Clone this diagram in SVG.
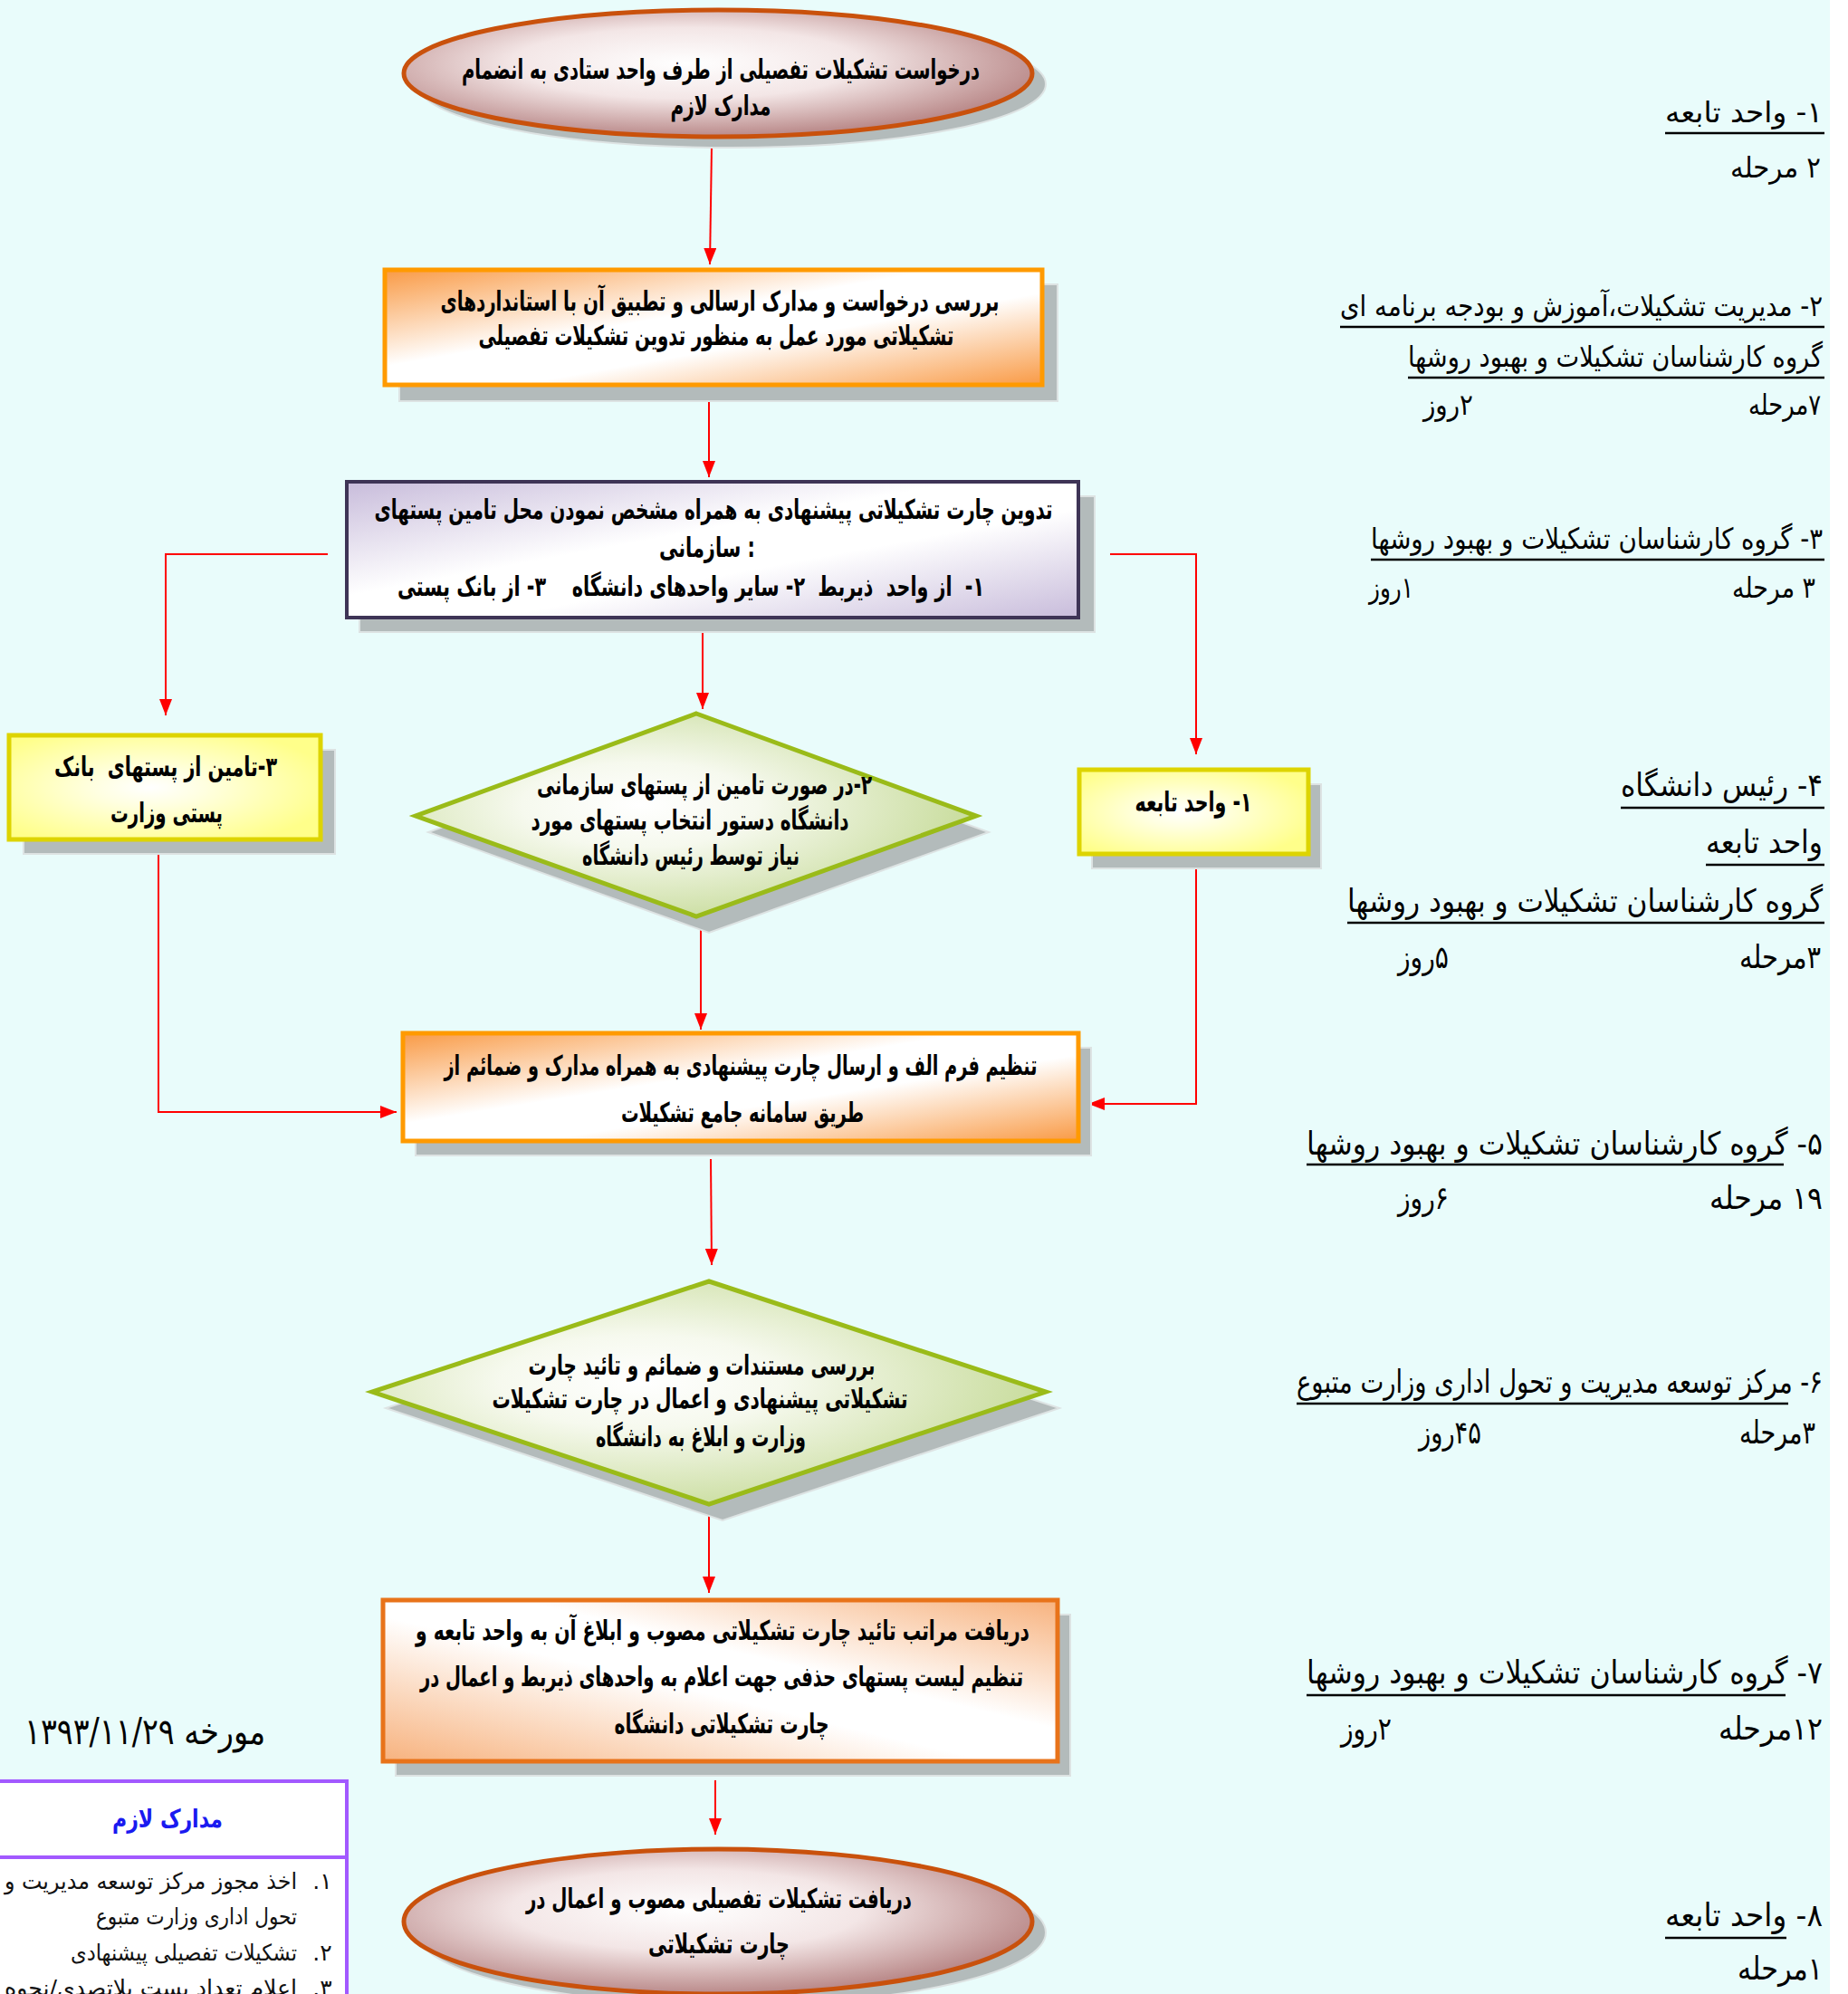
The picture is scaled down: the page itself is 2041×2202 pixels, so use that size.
<svg xmlns="http://www.w3.org/2000/svg" width="2041" height="2202" viewBox="0 0 2041 2202">
<style>
text{direction:rtl;unicode-bidi:embed}
.ltr{direction:ltr}
.t{font-family:"DejaVu Sans","Noto Sans",sans-serif;font-weight:bold;font-size:30px;text-anchor:middle;fill:#000}
.r{font-family:"DejaVu Sans","Noto Sans",sans-serif;font-size:32px;text-anchor:middle;fill:#000}
.rb{font-family:"DejaVu Sans","Noto Sans",sans-serif;font-size:35px;text-anchor:middle;fill:#000}
.ul{stroke:#000;stroke-width:2.5}
.sh{fill:#B3BBBB;stroke:#DDE3E3;stroke-width:2}
.conn{fill:none;stroke:#FF0000;stroke-width:2}
.ell{stroke:#C9510C;stroke-width:5;fill:url(#gEll)}
.orb{stroke:#FF9A00;stroke-width:5;fill:url(#gOr)}
.dia{stroke:#9ABB19;stroke-width:5;fill:url(#gGr)}
.yel{stroke:#DDD400;stroke-width:5;fill:url(#gYe)}
.lg{font-family:"DejaVu Sans","Noto Sans",sans-serif;font-size:25px;fill:#111;text-anchor:middle}
</style>
<defs>
<radialGradient id="gEll" cx="0.45" cy="0.42" r="0.62">
<stop offset="0" stop-color="#FFFFFF"/><stop offset="0.45" stop-color="#F3E6E6"/><stop offset="1" stop-color="#B27D7D"/>
</radialGradient>
<linearGradient id="gOr" x1="0" y1="0" x2="1" y2="1">
<stop offset="0" stop-color="#F99A45"/><stop offset="0.42" stop-color="#FFFFFF"/><stop offset="0.6" stop-color="#FFFFFF"/><stop offset="1" stop-color="#F99A45"/>
</linearGradient>
<linearGradient id="gOr2" x1="0" y1="1" x2="1" y2="0">
<stop offset="0" stop-color="#F7B27E"/><stop offset="0.45" stop-color="#FFFFFF"/><stop offset="0.6" stop-color="#FFFFFF"/><stop offset="1" stop-color="#F7B27E"/>
</linearGradient>
<linearGradient id="gPu" x1="0" y1="0" x2="1" y2="1">
<stop offset="0" stop-color="#C8BCDB"/><stop offset="0.42" stop-color="#FFFFFF"/><stop offset="0.6" stop-color="#FFFFFF"/><stop offset="1" stop-color="#C8BCDB"/>
</linearGradient>
<radialGradient id="gGr" cx="0.4" cy="0.45" r="0.6">
<stop offset="0" stop-color="#FFFFFF"/><stop offset="0.35" stop-color="#F6F9EE"/><stop offset="1" stop-color="#C8DC9C"/>
</radialGradient>
<radialGradient id="gYe" cx="0.45" cy="0.5" r="0.6">
<stop offset="0" stop-color="#FFFFFF"/><stop offset="0.3" stop-color="#FFFFE0"/><stop offset="1" stop-color="#FFFF8A"/>
</radialGradient>
<marker id="ah" viewBox="0 0 18 14" refX="18" refY="7" markerWidth="18" markerHeight="14" markerUnits="userSpaceOnUse" orient="auto">
<path d="M0,0 L18,7 L0,14 z" fill="#FF0000"/>
</marker>
</defs>
<rect x="0" y="0" width="2041" height="2202" fill="#E9FCFB"/>
<rect x="2021" y="0" width="20" height="2202" fill="#FFFFFF"/>

<g id="connectors">
<path class="conn" d="M786,161 L784,292" marker-end="url(#ah)"/>
<path class="conn" d="M783,428 L783,527" marker-end="url(#ah)"/>
<path class="conn" d="M362,612 L183,612 L183,790" marker-end="url(#ah)"/>
<path class="conn" d="M1226,612 L1321,612 L1321,833" marker-end="url(#ah)"/>
<path class="conn" d="M776,688 L776,783" marker-end="url(#ah)"/>
<path class="conn" d="M175,943 L175,1228 L438,1228" marker-end="url(#ah)"/>
<path class="conn" d="M774,1025 L774,1137" marker-end="url(#ah)"/>
<path class="conn" d="M1321,960 L1321,1219 L1202,1219" marker-end="url(#ah)"/>
<path class="conn" d="M785,1280 L786,1397" marker-end="url(#ah)"/>
<path class="conn" d="M783,1671 L783,1759" marker-end="url(#ah)"/>
<path class="conn" d="M790,1966 L790,2026" marker-end="url(#ah)"/>
</g>

<g id="n1">
<ellipse class="sh" cx="808" cy="93" rx="347" ry="70"/>
<ellipse class="ell" cx="793" cy="81" rx="347" ry="70"/>
<text class="t" x="796" y="87" textLength="572" lengthAdjust="spacingAndGlyphs">درخواست تشکیلات تفصیلی از طرف واحد ستادی به انضمام</text>
<text class="t" x="796" y="127" textLength="111" lengthAdjust="spacingAndGlyphs">مدارک لازم</text>
</g>

<g id="n2">
<rect class="sh" x="441" y="314" width="727" height="129"/>
<rect class="orb" x="425" y="298" width="726" height="127"/>
<text class="t" x="795" y="343" textLength="617" lengthAdjust="spacingAndGlyphs">بررسی درخواست و مدارک ارسالی و تطبیق آن با استانداردهای</text>
<text class="t" x="791" y="381" textLength="525" lengthAdjust="spacingAndGlyphs">تشکیلاتی مورد عمل به منظور تدوین تشکیلات تفصیلی</text>
</g>

<g id="n3">
<rect class="sh" x="397" y="548" width="812" height="150"/>
<rect x="383" y="532" width="808" height="150" fill="url(#gPu)" stroke="#3E3456" stroke-width="4"/>
<text class="t" x="788" y="573" textLength="749" lengthAdjust="spacingAndGlyphs">تدوین چارت تشکیلاتی پیشنهادی به همراه مشخص نمودن محل تامین پستهای</text>
<text class="t ltr" x="781" y="615" textLength="106" lengthAdjust="spacingAndGlyphs">سازمانی :</text>
<text class="t" x="763" y="658" textLength="648" lengthAdjust="spacingAndGlyphs" xml:space="preserve">۱-  از واحد  ذیربط  ۲- سایر واحدهای دانشگاه    ۳- از بانک پستی</text>
</g>

<g id="n4">
<polygon class="sh" points="783,806 1092,919 783,1030 473,919"/>
<polygon class="dia" points="769,788 1078,901 769,1012 459,901"/>
<text class="t" x="778" y="877" font-size="27" textLength="370" lengthAdjust="spacingAndGlyphs">۲-در صورت تامین از پستهای سازمانی</text>
<text class="t" x="762" y="916" font-size="27" textLength="351" lengthAdjust="spacingAndGlyphs">دانشگاه دستور انتخاب پستهای مورد</text>
<text class="t" x="763" y="955" font-size="27" textLength="240" lengthAdjust="spacingAndGlyphs">نیاز توسط رئیس دانشگاه</text>
</g>

<g id="n5">
<rect class="sh" x="26" y="828" width="344" height="115"/>
<rect class="yel" x="10" y="812" width="344" height="115"/>
<text class="t" x="183" y="857" textLength="246" lengthAdjust="spacingAndGlyphs" xml:space="preserve">۳-تامین از پستهای  بانک</text>
<text class="t" x="184" y="908" textLength="124" lengthAdjust="spacingAndGlyphs">پستی وزارت</text>
</g>

<g id="n6">
<rect class="sh" x="1206" y="866" width="253" height="93"/>
<rect class="yel" x="1192" y="850" width="253" height="93"/>
<text class="t" x="1318" y="896" textLength="129" lengthAdjust="spacingAndGlyphs">۱- واحد تابعه</text>
</g>

<g id="n7">
<rect class="sh" x="459" y="1157" width="746" height="119"/>
<rect class="orb" x="445" y="1141" width="746" height="119"/>
<text class="t" x="818" y="1187" textLength="655" lengthAdjust="spacingAndGlyphs">تنظیم فرم الف و ارسال چارت پیشنهادی به همراه مدارک و ضمائم از</text>
<text class="t" x="820" y="1239" textLength="268" lengthAdjust="spacingAndGlyphs">طریق سامانه جامع تشکیلات</text>
</g>

<g id="n8">
<polygon class="sh" points="798,1433 1170,1555 798,1679 426,1555"/>
<polygon class="dia" points="783,1415 1155,1537 783,1661 411,1537"/>
<text class="t" x="775" y="1518" textLength="383" lengthAdjust="spacingAndGlyphs">بررسی مستندات و ضمائم و تائید چارت</text>
<text class="t" x="773" y="1555" textLength="459" lengthAdjust="spacingAndGlyphs">تشکیلاتی پیشنهادی و اعمال در چارت تشکیلات</text>
<text class="t" x="774" y="1597" textLength="232" lengthAdjust="spacingAndGlyphs">وزارت و ابلاغ به دانشگاه</text>
</g>

<g id="n9">
<rect class="sh" x="437" y="1783" width="745" height="178"/>
<rect x="423" y="1767" width="745" height="178" fill="url(#gOr2)" stroke="#E8731A" stroke-width="5"/>
<text class="t" x="798" y="1811" textLength="678" lengthAdjust="spacingAndGlyphs">دریافت مراتب تائید چارت تشکیلاتی مصوب و ابلاغ آن به واحد تابعه و</text>
<text class="t" x="797" y="1862" textLength="666" lengthAdjust="spacingAndGlyphs">تنظیم لیست پستهای حذفی جهت اعلام به واحدهای ذیربط و اعمال در</text>
<text class="t" x="797" y="1914" textLength="237" lengthAdjust="spacingAndGlyphs">چارت تشکیلاتی دانشگاه</text>
</g>

<g id="n10">
<ellipse class="sh" cx="808" cy="2134" rx="347" ry="80"/>
<ellipse class="ell" cx="793" cy="2122" rx="347" ry="80"/>
<text class="t" x="794" y="2107" textLength="426" lengthAdjust="spacingAndGlyphs">دریافت تشکیلات تفصیلی مصوب و اعمال در</text>
<text class="t" x="794" y="2157" textLength="156" lengthAdjust="spacingAndGlyphs">چارت تشکیلاتی</text>
</g>

<g id="steps">
<text class="r" x="1926" y="135" textLength="174" lengthAdjust="spacingAndGlyphs">۱- واحد تابعه</text>
<line class="ul" x1="1839" y1="147" x2="2015" y2="147"/>
<text class="r" x="1961" y="196" textLength="100" lengthAdjust="spacingAndGlyphs">۲ مرحله</text>

<text class="r" x="1746.5" y="349" textLength="533" lengthAdjust="spacingAndGlyphs">۲- مدیریت تشکیلات،آموزش و بودجه برنامه ای</text>
<line class="ul" x1="1480" y1="361" x2="2015" y2="361"/>
<text class="r" x="1784" y="405" textLength="458" lengthAdjust="spacingAndGlyphs">گروه کارشناسان تشکیلات و بهبود روشها</text>
<line class="ul" x1="1555" y1="417" x2="2015" y2="417"/>
<text class="r" x="1971" y="458" textLength="80" lengthAdjust="spacingAndGlyphs">۷مرحله</text>
<text class="r" x="1599.5" y="458" textLength="55" lengthAdjust="spacingAndGlyphs">۲روز</text>

<text class="r" x="1763.5" y="606" textLength="499" lengthAdjust="spacingAndGlyphs">۳- گروه کارشناسان تشکیلات و بهبود روشها</text>
<line class="ul" x1="1514" y1="618" x2="2015" y2="618"/>
<text class="r" x="1959" y="660" textLength="92" lengthAdjust="spacingAndGlyphs">۳ مرحله</text>
<text class="r" x="1536.5" y="660" textLength="49" lengthAdjust="spacingAndGlyphs">۱روز</text>

<text class="rb" x="1901.5" y="879" textLength="223" lengthAdjust="spacingAndGlyphs">۴- رئیس دانشگاه</text>
<line class="ul" x1="1790" y1="892" x2="2015" y2="892"/>
<text class="rb" x="1948.5" y="942" textLength="129" lengthAdjust="spacingAndGlyphs">واحد تابعه</text>
<line class="ul" x1="1884" y1="955" x2="2015" y2="955"/>
<text class="rb" x="1750.5" y="1007" textLength="525" lengthAdjust="spacingAndGlyphs">گروه کارشناسان تشکیلات و بهبود روشها</text>
<line class="ul" x1="1488" y1="1019" x2="2015" y2="1019"/>
<text class="rb" x="1966" y="1069" textLength="90" lengthAdjust="spacingAndGlyphs">۳مرحله</text>
<text class="rb" x="1572" y="1069" textLength="56" lengthAdjust="spacingAndGlyphs">۵روز</text>

<text class="rb" x="1728" y="1275" textLength="570" lengthAdjust="spacingAndGlyphs">۵- گروه کارشناسان تشکیلات و بهبود روشها</text>
<line class="ul" x1="1443" y1="1286" x2="1970" y2="1286"/>
<text class="rb" x="1950.5" y="1335" textLength="125" lengthAdjust="spacingAndGlyphs">۱۹ مرحله</text>
<text class="rb" x="1572" y="1335" textLength="56" lengthAdjust="spacingAndGlyphs">۶روز</text>

<text class="rb" x="1722.5" y="1538" textLength="581" lengthAdjust="spacingAndGlyphs">۶- مرکز توسعه مدیریت و تحول اداری وزارت متبوع</text>
<line class="ul" x1="1432" y1="1550" x2="1975" y2="1550"/>
<text class="rb" x="1963" y="1594" textLength="84" lengthAdjust="spacingAndGlyphs">۳مرحله</text>
<text class="rb" x="1601.5" y="1594" textLength="69" lengthAdjust="spacingAndGlyphs">۴۵روز</text>

<text class="rb" x="1728" y="1859" textLength="570" lengthAdjust="spacingAndGlyphs">۷- گروه کارشناسان تشکیلات و بهبود روشها</text>
<line class="ul" x1="1443" y1="1872" x2="1972" y2="1872"/>
<text class="rb" x="1955.5" y="1921" textLength="115" lengthAdjust="spacingAndGlyphs">۱۲مرحله</text>
<text class="rb" x="1509" y="1921" textLength="56" lengthAdjust="spacingAndGlyphs">۲روز</text>

<text class="rb" x="1926" y="2127" textLength="174" lengthAdjust="spacingAndGlyphs">۸- واحد تابعه</text>
<line class="ul" x1="1839" y1="2140" x2="1973" y2="2140"/>
<text class="rb" x="1966" y="2186" textLength="94" lengthAdjust="spacingAndGlyphs">۱مرحله</text>
</g>

<g id="date">
<text class="ltr" x="160" y="1926" font-family="DejaVu Sans, Noto Sans, sans-serif" font-size="40" text-anchor="middle" textLength="266" lengthAdjust="spacingAndGlyphs">مورخه ۱۳۹۳/۱۱/۲۹</text>
</g>

<g id="docs">
<rect x="-10" y="1967" width="393" height="260" fill="#FFFFFF" stroke="#A259FF" stroke-width="4"/>
<line x1="-10" y1="2051" x2="383" y2="2051" stroke="#A259FF" stroke-width="4"/>
<text x="185" y="2018" font-family="DejaVu Sans, Noto Sans, sans-serif" font-weight="bold" font-size="28" fill="#1A1AF0" text-anchor="middle" textLength="122" lengthAdjust="spacingAndGlyphs">مدارک لازم</text>
<text class="lg" x="356" y="2086">۱.</text>
<text class="lg" x="166.5" y="2086" textLength="323" lengthAdjust="spacingAndGlyphs">اخذ مجوز مرکز توسعه مدیریت و</text>
<text class="lg" x="217" y="2125" textLength="222" lengthAdjust="spacingAndGlyphs">تحول اداری وزارت متبوع</text>
<text class="lg" x="356" y="2165">۲.</text>
<text class="lg" x="203" y="2165" textLength="250" lengthAdjust="spacingAndGlyphs">تشکیلات تفصیلی پیشنهادی</text>
<text class="lg" x="356" y="2204">۳.</text>
<text class="lg" x="166.5" y="2204" textLength="323" lengthAdjust="spacingAndGlyphs">اعلام تعداد پست بلاتصدی/نحوه</text>
</g>
</svg>
